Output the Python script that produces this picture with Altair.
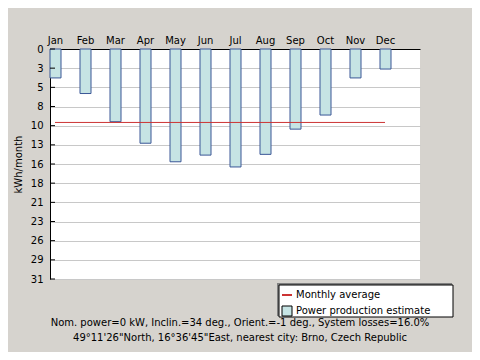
import altair as alt
import pandas as pd

months = ["Jan", "Feb", "Mar", "Apr", "May", "Jun", "Jul", "Aug", "Sep", "Oct", "Nov", "Dec"]
month_index = list(range(12))
production = [3.9, 6.0, 9.8, 12.7, 15.2, 14.3, 15.9, 14.2, 10.8, 8.9, 3.9, 2.7]
monthly_average = [9.9]
avg_span = [0, 11]
y_tick_values = [0, 2.58, 5.17, 7.75, 10.33, 12.92, 15.5, 18.08, 20.67, 23.25, 25.83, 28.42, 31]
y_tick_labels = ["0", "3", "5", "8", "10", "13", "16", "18", "21", "23", "26", "29", "31"]
legend_labels = ["Monthly average", "Power production estimate"]
footer_lines = [
    "Nom. power=0 kW, Inclin.=34 deg., Orient.=-1 deg., System losses=16.0%",
    "49\u00b011'26\"North, 16\u00b036'45\"East, nearest city: Brno, Czech Republic",
]

FONT = "DejaVu Sans"
BG = "#d6d3ce"
BAR_FILL = "#c6e4e4"
BAR_STROKE = "#3a5796"
RED = "#cc3333"

df = pd.DataFrame({"i": month_index, "month": months, "kwh": production})
avg_df = pd.DataFrame({"i": [avg_span[0]], "i2": [avg_span[1]], "kwh": monthly_average})
tick_df = pd.DataFrame({"kwh": y_tick_values})
one = alt.Data(values=[{"k": 0}])

month_expr = "[" + ",".join("'%s'" % m for m in months) + "][round(datum.value)]"
ylab_expr = "[" + ",".join("'%s'" % s for s in y_tick_labels) + "][round(datum.value*12/31)]"

xscale = alt.Scale(domain=[0, 12], nice=False, zero=False)
yscale = alt.Scale(domain=[0, 31], nice=False, reverse=True)

xaxis = alt.Axis(
    orient="top", values=month_index, labelExpr=month_expr, tickSize=0,
    labelPadding=4, grid=False, domainColor="black", title=None,
    labelFont=FONT, labelFontSize=10, labelColor="black", labelAngle=0)
yaxis = alt.Axis(
    values=y_tick_values, labelExpr=ylab_expr, tickSize=0, labelPadding=7,
    grid=True, gridColor="#c8c8c8", domainColor="black",
    title="kWh/month", titleFont=FONT, titleFontSize=10, titleFontWeight="normal",
    titleColor="black", titleX=-32, titleY=115, titleBaseline="middle",
    labelFont=FONT, labelFontSize=10, labelColor="black")

X = alt.X("i:Q", scale=xscale, axis=xaxis)
Y = alt.Y("kwh:Q", scale=yscale, axis=yaxis)

bars = alt.Chart(df).mark_bar(
    width=11, xOffset=0.5, fill=BAR_FILL, stroke=BAR_STROKE, strokeWidth=1
).encode(x=X, y=Y)

ticks = alt.Chart(tick_df).mark_rule(color="black").encode(
    y=Y, x=alt.value(0), x2=alt.value(5)
)

avg_line = alt.Chart(avg_df).mark_rule(color=RED, strokeWidth=1).encode(
    x=X, x2="i2:Q", y=Y
)

shadow = alt.Chart(one).mark_rect(fill="#808080").encode(
    x=alt.value(227), x2=alt.value(402), y=alt.value(234), y2=alt.value(267)
)
box = alt.Chart(one).mark_rect(fill="white", stroke="black", strokeWidth=1).encode(
    x=alt.value(229), x2=alt.value(403), y=alt.value(236), y2=alt.value(268)
)
leg_line = alt.Chart(one).mark_rule(color=RED, strokeWidth=2).encode(
    x=alt.value(232), x2=alt.value(242), y=alt.value(246)
)
leg_sq = alt.Chart(one).mark_rect(fill=BAR_FILL, stroke="black", strokeWidth=1).encode(
    x=alt.value(232), x2=alt.value(242), y=alt.value(257), y2=alt.value(267)
)
leg_t1 = alt.Chart(one).mark_text(align="left", baseline="middle", font=FONT, fontSize=10, color="black").encode(
    x=alt.value(246), y=alt.value(246), text=alt.value(legend_labels[0])
)
leg_t2 = alt.Chart(one).mark_text(align="left", baseline="middle", font=FONT, fontSize=10, color="black").encode(
    x=alt.value(246), y=alt.value(262), text=alt.value(legend_labels[1])
)
foot1 = alt.Chart(one).mark_text(align="center", baseline="middle", font=FONT, fontSize=10, color="black").encode(
    x=alt.value(190), y=alt.value(274), text=alt.value(footer_lines[0])
)
foot2 = alt.Chart(one).mark_text(align="center", baseline="middle", font=FONT, fontSize=10, color="black").encode(
    x=alt.value(190), y=alt.value(289), text=alt.value(footer_lines[1])
)

chart = alt.layer(
    bars, ticks, avg_line, shadow, box, leg_line, leg_sq, leg_t1, leg_t2, foot1, foot2
).properties(
    width=370, height=230,
    autosize=alt.AutoSizeParams(type="none"),
    padding={"left": 42, "top": 41, "right": 52, "bottom": 73},
    background=BG,
).configure_view(fill="white", stroke=None)

chart.save("out.html", embed_options={"renderer": "svg", "actions": False})
